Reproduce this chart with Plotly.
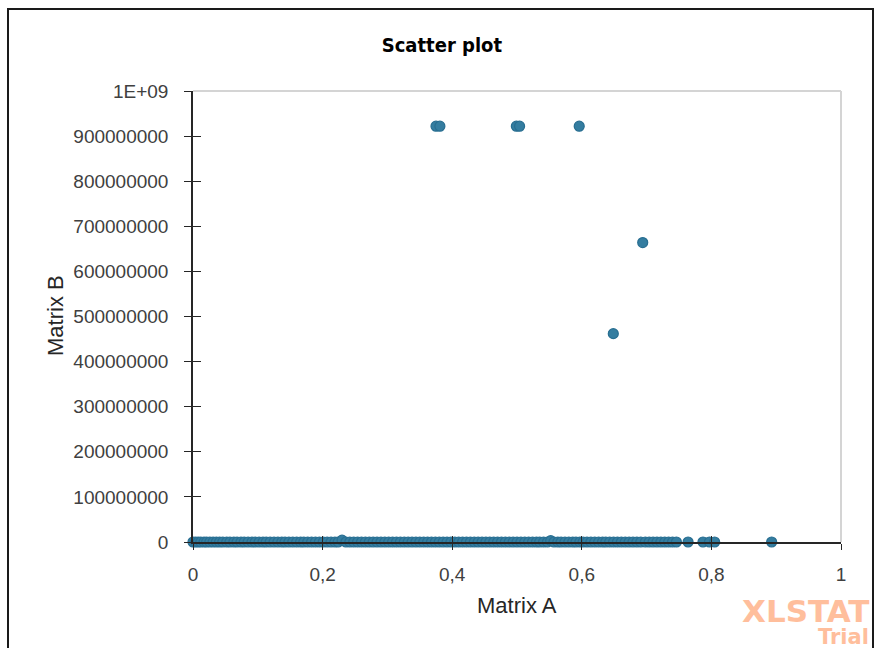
import plotly.graph_objects as go

# ---- data ----
matrix_a = [
    0.000, 0.004, 0.008, 0.012, 0.017, 0.021, 0.026, 0.031, 0.036, 0.041,
    0.046, 0.052, 0.057, 0.063, 0.068, 0.074, 0.079, 0.085, 0.091, 0.096,
    0.102, 0.108, 0.113, 0.119, 0.125, 0.131, 0.137, 0.142, 0.148, 0.154,
    0.160, 0.166, 0.171, 0.177, 0.183, 0.189, 0.195, 0.201, 0.207, 0.213,
    0.219, 0.224, 0.230, 0.236, 0.242, 0.248, 0.254, 0.260, 0.266, 0.272,
    0.278, 0.284, 0.290, 0.296, 0.302, 0.308, 0.314, 0.320, 0.326, 0.332,
    0.338, 0.344, 0.350, 0.356, 0.362, 0.368, 0.374, 0.380, 0.386, 0.392,
    0.398, 0.404, 0.410, 0.416, 0.422, 0.428, 0.434, 0.440, 0.446, 0.452,
    0.458, 0.464, 0.470, 0.476, 0.482, 0.488, 0.494, 0.500, 0.506, 0.512,
    0.518, 0.524, 0.530, 0.535, 0.541, 0.547, 0.552, 0.557, 0.563, 0.568,
    0.574, 0.580, 0.586, 0.591, 0.597, 0.602, 0.608, 0.614, 0.620, 0.626,
    0.632, 0.637, 0.643, 0.649, 0.655, 0.661, 0.667, 0.673, 0.679, 0.685,
    0.691, 0.698, 0.704, 0.710, 0.716, 0.722, 0.728, 0.734, 0.740, 0.746,
    0.764, 0.787, 0.797, 0.805, 0.893, 0.375, 0.381, 0.499, 0.504, 0.596,
    0.6486, 0.694,
]
matrix_b = [
    0, 0, 0, 0, 0, 0, 0, 0, 0, 0,
    0, 0, 0, 0, 0, 0, 0, 0, 0, 0,
    0, 0, 0, 0, 0, 0, 0, 0, 0, 0,
    0, 0, 0, 0, 0, 0, 0, 0, 0, 0,
    0, 0, 4000000, 0, 0, 0, 0, 0, 0, 0,
    0, 0, 0, 0, 0, 0, 0, 0, 0, 0,
    0, 0, 0, 0, 0, 0, 0, 0, 0, 0,
    0, 0, 0, 0, 0, 0, 0, 0, 0, 0,
    0, 0, 0, 0, 0, 0, 0, 0, 0, 0,
    0, 0, 0, 0, 0, 0, 3000000, 0, 0, 0,
    0, 0, 0, 0, 0, 0, 0, 0, 0, 0,
    0, 0, 0, 0, 0, 0, 0, 0, 0, 0,
    0, 0, 0, 0, 0, 0, 0, 0, 0, 0,
    0, 0, 0, 0, 0, 922000000, 922000000, 922000000, 922000000, 922000000,
    462000000, 664000000,
]

x_tickvals = [0, 0.2, 0.4, 0.6, 0.8, 1]
x_ticktext = ["0", "0,2", "0,4", "0,6", "0,8", "1"]
y_tickvals = [0, 100000000, 200000000, 300000000, 400000000, 500000000,
              600000000, 700000000, 800000000, 900000000, 1000000000]
y_ticktext = ["0", "100000000", "200000000", "300000000", "400000000", "500000000",
              "600000000", "700000000", "800000000", "900000000", "1E+09"]

title_text = "Scatter plot"
x_title = "Matrix A"
y_title = "Matrix B"

# ---- layout geometry (pixels) ----
W, H = 875, 648
L, R, T, B = 193, 841, 91, 542
pw, ph = R - L, B - T

def px_x(p):
    return (p - L) / pw

def px_y(p):
    return (B - p) / ph

tick_font = dict(family="Liberation Sans, Arial, sans-serif", size=19, color="#404040")
axis_col = "#262626"
wm_col = "#FFBE9C"

fig = go.Figure()
fig.add_trace(go.Scatter(
    x=matrix_a, y=matrix_b, mode="markers", cliponaxis=False,
    marker=dict(size=10, color="#347DA0", line=dict(color="#286E91", width=1.2)),
    showlegend=False, hoverinfo="x+y",
))
# invisible trace to activate overlay axes (for crossing ticks)
fig.add_trace(go.Scatter(x=[], y=[], xaxis="x2", yaxis="y2", showlegend=False))

fig.update_layout(
    width=W, height=H,
    margin=dict(l=L, r=W - R, t=T, b=H - B, pad=0),
    paper_bgcolor="white", plot_bgcolor="white",
    title=dict(text="<b>%s</b>" % title_text, x=0.505, xanchor="center",
               y=1 - 45 / H, yanchor="middle",
               font=dict(family="DejaVu Sans Condensed, Liberation Sans Narrow, sans-serif",
                         size=20, color="#000000")),
    xaxis=dict(range=[0, 1], tickvals=x_tickvals, ticktext=x_ticktext,
               showgrid=False, zeroline=False, showline=True, linecolor=axis_col, linewidth=1.5,
               ticks="outside", ticklen=6, tickwidth=1.2, tickcolor=axis_col,
               tickfont=tick_font, ticklabelstandoff=8, fixedrange=True),
    yaxis=dict(range=[0, 1e9], tickvals=y_tickvals, ticktext=y_ticktext,
               showgrid=False, zeroline=False, showline=True, linecolor=axis_col, linewidth=1.5,
               ticks="outside", ticklen=7, tickwidth=1.2, tickcolor=axis_col,
               tickfont=tick_font, ticklabelstandoff=12, fixedrange=True),
    xaxis2=dict(overlaying="x", anchor="y", range=[0, 1], tickvals=x_tickvals,
                showticklabels=False, showgrid=False, zeroline=False, showline=False,
                ticks="inside", ticklen=6, tickwidth=1.2, tickcolor=axis_col, fixedrange=True),
    yaxis2=dict(overlaying="y", anchor="x", side="left", range=[0, 1e9], tickvals=y_tickvals,
                showticklabels=False, showgrid=False, zeroline=False, showline=False,
                ticks="inside", ticklen=8, tickwidth=1.2, tickcolor=axis_col, fixedrange=True),
    shapes=[
        # light gray plot-area border (top and right)
        dict(type="line", xref="paper", yref="paper", x0=0, x1=1, y0=1, y1=1,
             line=dict(color="#D4D4D4", width=2), layer="below"),
        dict(type="line", xref="paper", yref="paper", x0=1, x1=1, y0=0, y1=1,
             line=dict(color="#D4D4D4", width=2), layer="below"),
        # outer chart frame
        dict(type="rect", xref="paper", yref="paper",
             x0=px_x(8), x1=px_x(873), y0=px_y(680), y1=px_y(9),
             line=dict(color="#1A1A1A", width=2), fillcolor="rgba(0,0,0,0)", layer="below"),
    ],
    annotations=[
        dict(text=x_title, xref="paper", yref="paper", x=0.5, y=px_y(605),
             xanchor="center", yanchor="middle", showarrow=False,
             font=dict(family="Liberation Sans, Arial, sans-serif", size=22, color="#262626")),
        dict(text=y_title, xref="paper", yref="paper", x=px_x(55), y=px_y(316),
             xanchor="center", yanchor="middle", showarrow=False, textangle=-90,
             font=dict(family="Liberation Sans, Arial, sans-serif", size=22, color="#262626")),
        dict(text="<b>XLSTAT</b>", xref="paper", yref="paper", x=px_x(871), y=px_y(611),
             xanchor="right", yanchor="middle", showarrow=False,
             font=dict(family="DejaVu Sans, sans-serif", size=31, color=wm_col)),
        dict(text="<b>Trial</b>", xref="paper", yref="paper", x=px_x(871), y=px_y(637),
             xanchor="right", yanchor="middle", showarrow=False,
             font=dict(family="DejaVu Sans, sans-serif", size=21, color=wm_col)),
    ],
)

fig.write_html("out.html", config={"displayModeBar": False},
               post_script="document.body.style.margin='0';")
